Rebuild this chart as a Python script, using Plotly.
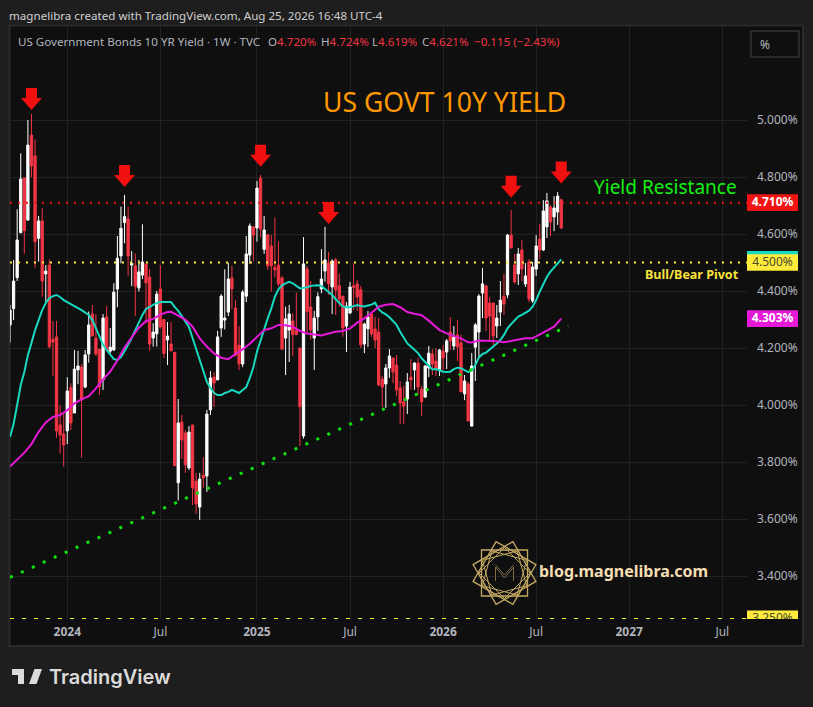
import math
import pandas as pd
import plotly.graph_objects as go

# weekly bars, first one is the week of 2023-09-11
first_week = "2023-09-11"
opens = [4.281,4.338,4.447,4.605,4.797,4.649,4.947,4.874,4.585,4.646,
         4.460,4.491,4.230,4.239,3.930,3.898,3.909,4.061,3.972,4.123,
         4.133,4.063,4.179,4.319,4.235,4.196,4.088,4.309,4.189,4.193,
         4.407,4.523,4.640,4.653,4.491,4.488,4.411,4.456,4.495,4.449,
         4.235,4.250,4.407,4.300,4.228,4.214,4.184,3.727,3.940,3.902,
         3.779,3.930,3.733,3.642,3.754,3.751,3.983,4.098,4.088,4.270,
         4.298,4.326,4.446,4.340,4.210,4.144,4.382,4.526,4.625,4.621,
         4.796,4.546,4.597,4.558,4.483,4.491,4.446,4.235,4.263,4.295,
         4.263,4.200,3.891,4.477,4.344,4.235,4.309,4.407,4.470,4.498,
         4.414,4.509,4.418,4.382,4.277,4.323,4.418,4.425,4.404,4.214,
         4.267,4.319,4.267,4.256,4.091,4.074,4.130,4.165,4.140,4.060,
         4.011,4.021,4.098,4.123,4.147,4.056,4.028,4.130,4.179,4.154,
         4.123,4.189,4.186,4.256,4.207,4.246,4.218,4.039,4.074,3.926,
         4.203,4.256,4.393,4.418,4.358,4.358,4.277,4.326,4.382,4.386,
         4.596,4.491,4.460,4.544,4.425,4.502,4.365,4.477,4.582,4.544,
         4.625,4.695,4.660,4.677,4.720]
highs = [4.351,4.509,4.687,4.883,4.797,5.000,5.021,4.932,4.663,4.690,
         4.491,4.511,4.295,4.295,3.999,3.968,4.097,4.076,4.193,4.190,
         4.144,4.193,4.328,4.351,4.319,4.196,4.319,4.347,4.270,4.427,
         4.593,4.696,4.737,4.696,4.540,4.532,4.509,4.634,4.495,4.477,
         4.287,4.400,4.491,4.300,4.291,4.291,4.187,4.021,3.965,3.912,
         3.926,3.930,3.762,3.762,3.817,3.983,4.119,4.116,4.260,4.389,
         4.476,4.499,4.488,4.368,4.277,4.403,4.593,4.637,4.628,4.786,
         4.807,4.663,4.600,4.597,4.658,4.575,4.453,4.345,4.351,4.322,
         4.395,4.200,4.589,4.488,4.435,4.330,4.395,4.547,4.625,4.537,
         4.511,4.516,4.460,4.382,4.361,4.432,4.497,4.439,4.418,4.289,
         4.330,4.319,4.309,4.305,4.102,4.144,4.196,4.165,4.175,4.084,
         4.067,4.112,4.161,4.151,4.165,4.067,4.140,4.207,4.196,4.200,
         4.196,4.210,4.232,4.309,4.277,4.298,4.246,4.105,4.081,4.182,
         4.288,4.389,4.481,4.421,4.379,4.358,4.351,4.435,4.460,4.600,
         4.684,4.530,4.551,4.579,4.498,4.512,4.502,4.596,4.635,4.719,
         4.744,4.702,4.733,4.747,4.724]
lows = [4.219,4.298,4.435,4.602,4.531,4.646,4.799,4.482,4.503,4.380,
        4.361,4.198,4.102,3.885,3.829,3.784,3.863,3.912,3.972,4.073,
        3.815,4.059,4.149,4.242,4.172,4.035,4.053,4.196,4.181,4.190,
        4.343,4.497,4.567,4.454,4.417,4.312,4.398,4.442,4.287,4.190,
        4.205,4.205,4.268,4.165,4.140,4.190,3.787,3.665,3.811,3.762,
        3.772,3.649,3.618,3.597,3.709,3.695,3.965,3.993,4.088,4.239,
        4.265,4.312,4.337,4.170,4.123,4.133,4.361,4.495,4.505,4.573,
        4.588,4.530,4.474,4.398,4.447,4.415,4.193,4.105,4.151,4.172,
        4.247,3.856,3.882,4.251,4.230,4.123,4.260,4.392,4.433,4.386,
        4.319,4.316,4.345,4.240,4.186,4.319,4.333,4.330,4.200,4.182,
        4.204,4.239,4.200,4.067,3.992,3.990,4.095,4.077,4.032,3.933,
        3.933,3.968,4.053,4.053,4.035,3.961,4.025,4.098,4.105,4.102,
        4.102,4.123,4.126,4.193,4.193,4.154,4.046,4.017,3.944,3.924,
        4.084,4.168,4.305,4.260,4.228,4.210,4.235,4.277,4.316,4.375,
        4.551,4.425,4.421,4.435,4.414,4.361,4.358,4.453,4.512,4.540,
        4.586,4.593,4.610,4.632,4.619]
closes = [4.333,4.435,4.579,4.793,4.612,4.912,4.839,4.573,4.646,4.435,
          4.470,4.205,4.221,3.909,3.895,3.860,4.049,3.937,4.126,4.137,
          4.018,4.176,4.281,4.242,4.179,4.064,4.305,4.196,4.203,4.396,
          4.515,4.620,4.661,4.523,4.497,4.417,4.467,4.502,4.429,4.214,
          4.256,4.389,4.274,4.181,4.242,4.190,3.787,3.937,3.877,3.790,
          3.905,3.709,3.653,3.740,3.744,3.968,4.095,4.077,4.239,4.382,
          4.305,4.442,4.407,4.175,4.144,4.396,4.530,4.628,4.596,4.761,
          4.617,4.614,4.488,4.488,4.474,4.425,4.196,4.302,4.319,4.247,
          4.247,3.994,4.495,4.327,4.263,4.305,4.380,4.442,4.509,4.425,
          4.505,4.404,4.372,4.270,4.347,4.414,4.413,4.379,4.211,4.284,
          4.309,4.249,4.228,4.070,4.063,4.130,4.172,4.116,4.053,4.007,
          3.996,4.081,4.088,4.147,4.063,4.011,4.137,4.182,4.144,4.126,
          4.193,4.165,4.225,4.225,4.239,4.204,4.046,4.084,3.944,4.137,
          4.281,4.382,4.425,4.305,4.312,4.242,4.305,4.368,4.354,4.596,
          4.551,4.432,4.530,4.477,4.453,4.372,4.484,4.558,4.544,4.681,
          4.716,4.642,4.691,4.733,4.621]

# moving averages, week numbers count from 2024-01-01
teal_weeks = list(range(-16, 1)) + [2, 4, 6] + list(range(7, 139))
teal_values = [3.888,3.933,4.000,4.070,4.116,4.175,4.218,4.263,4.298,4.333,4.358,4.375,4.382,4.386,4.379,4.368,4.361,
               4.347,4.333,4.316,
               4.298,4.270,4.242,4.211,4.193,4.175,4.161,4.158,4.168,4.189,4.211,4.235,4.263,4.291,4.316,4.337,4.344,4.351,4.358,4.361,4.361,4.361,4.361,
               4.344,4.330,4.312,4.295,4.274,4.235,4.196,4.151,4.112,4.081,4.060,4.042,4.035,4.035,4.042,4.046,4.053,4.046,4.042,4.053,4.063,4.095,4.133,
               4.187,4.228,4.263,4.304,4.339,4.380,4.406,4.420,4.427,4.432,4.427,4.418,4.409,4.411,4.413,4.418,4.420,4.420,4.418,4.408,4.398,4.386,4.371,4.359,4.345,4.343,4.343,4.347,4.351,4.347,4.346,4.349,4.352,4.359,4.336,4.325,4.318,4.308,4.296,4.281,4.257,4.238,4.216,4.205,4.193,4.182,4.164,4.150,4.137,
               4.125,4.126,4.122,4.117,4.116,4.117,4.126,4.131,4.129,4.123,4.115,4.121,4.140,4.167,4.179,4.184,4.193,4.205,4.216,4.228,4.246,4.269,4.284,4.296,4.310,4.316,4.324,4.331,4.345,4.368,4.398,4.427,4.450,4.468,4.483,4.500,4.511]
magenta_weeks = [-16,-14,-12,-10,-8,-6,-4,-2,0,2,4,6,8,10,12,14,16,18,20,22,24,26,28,29,31,33,35,37,39,41,43,45,47,49,51,53,55,57,59,61,63,65,67,69,71,73,75,77,79,81,83,85,87,89,91,93,95,97,99,101,104,107,110,112,113,115,119,122,125,128,130,133,136,138]
magenta_values = [3.784,3.807,3.833,3.863,3.906,3.939,3.958,3.965,3.982,4.006,4.020,4.031,4.058,4.090,4.117,4.156,4.202,4.237,4.271,4.295,4.302,4.317,4.326,4.327,4.312,4.300,4.275,4.234,4.205,4.181,4.166,4.161,4.179,4.195,4.215,4.240,4.263,4.269,4.281,4.280,4.275,4.260,4.251,4.247,4.244,4.251,4.257,4.260,4.269,4.289,4.304,4.324,4.345,4.352,4.354,4.343,4.326,4.320,4.315,4.296,4.263,4.246,4.234,4.220,4.219,4.226,4.225,4.220,4.226,4.234,4.234,4.255,4.275,4.303]

trend_weeks = [-16, 140]
trend_values = [3.395, 4.277]

arrow_weeks = [-10, 16, 54, 73, 124, 138]
arrow_tips = [5.035, 4.765, 4.836, 4.635, 4.727, 4.777]

price_ticks = [3.4, 3.6, 3.8, 4.0, 4.2, 4.4, 4.6, 4.8, 5.0]
time_tick_weeks = [0, 26, 53, 79, 105, 131, 157, 183]
time_tick_labels = ["<b>2024</b>", "Jul", "<b>2025</b>", "Jul", "<b>2026</b>", "Jul", "<b>2027</b>", "Jul"]

BG = "#1e1e1e"
PANE = "#0f0f0f"
GRID = "#222222"
TXT = "#b2b5be"
RED = "#f23645"
FONT = "Noto Sans"

# pane in pixels
L, R, AXR, T, B = 10, 747, 798, 26, 619
W, H = 813, 707


def px_x(x):
    return (x - L) / (AXR - L)


def px_y(y):
    return 1 - (y - T) / (B - T)


def week_date(k):
    return pd.Timestamp("2024-01-01") + pd.Timedelta(days=7 * k)


def pixel_shape(cx, cy, path, **kw):
    # path in pixels around a paper anchor, y grows upward
    return dict(type="path", xref="paper", yref="paper", xsizemode="pixel", ysizemode="pixel",
                xanchor=px_x(cx), yanchor=px_y(cy), path=path, **kw)


def text(x, y, s, size, color, anchor="left", family=FONT, weight="normal"):
    # annotations pad their box by a couple of pixels
    if anchor == "left":
        x -= 2.5
    return dict(xref="paper", yref="paper", x=px_x(x), y=px_y(y), text=s, showarrow=False,
                xanchor=anchor, yanchor="middle", font=dict(family=family, size=size, color=color, weight=weight))


dates = pd.date_range(first_week, periods=len(opens), freq="7D")
ymin = 5 - (B - 120) / 285
ymax = 5 - (T - 120) / 285
tag_half = 8.35 / 285

fig = go.Figure()
fig.add_trace(go.Candlestick(
    x=dates, open=opens, high=highs, low=lows, close=closes,
    increasing=dict(line=dict(color="#ffffff", width=1), fillcolor="#ffffff"),
    decreasing=dict(line=dict(color=RED, width=1), fillcolor=RED),
    whiskerwidth=0, showlegend=False, hoverinfo="skip"))
fig.add_trace(go.Scatter(x=[week_date(k) for k in teal_weeks], y=teal_values, mode="lines",
                         line=dict(color="#18d8c0", width=2), showlegend=False, hoverinfo="skip"))
fig.add_trace(go.Scatter(x=[week_date(k) for k in magenta_weeks], y=magenta_values, mode="lines",
                         line=dict(color="#e619d8", width=2), showlegend=False, hoverinfo="skip"))
fig.add_trace(go.Scatter(x=[week_date(k) for k in trend_weeks], y=trend_values, mode="lines",
                         line=dict(color="#10e010", width=3, dash="3px,9px"), showlegend=False, hoverinfo="skip"))

# price tags live in a thin second subplot so the bottom one gets clipped by the pane edge
tag_prices = [4.710, 4.500, 4.303, 3.250]
tag_labels = ["<b>4.710%</b>", "4.500%", "<b>4.303%</b>", "3.250%"]
tag_fonts = ["#ffffff", "#4a4a30", "#ffffff", "#4a4a30"]
fig.add_trace(go.Scatter(x=[0.5] * 4, y=tag_prices, mode="text", text=tag_labels, xaxis="x2", yaxis="y2",
                         textfont=dict(family=FONT, size=12, color=tag_fonts), cliponaxis=True,
                         showlegend=False, hoverinfo="skip"))

shapes = []
# outer frame
shapes.append(dict(type="rect", xref="paper", yref="paper", x0=px_x(9.5), x1=px_x(803), y0=px_y(646), y1=px_y(25.5),
                   fillcolor=PANE, line=dict(color="#2a2a2a", width=2), layer="below"))
# levels
for lvl, col, dash, w in [(4.710, "#f01414", "2px,6px", 2), (4.500, "#ffeb3b", "2px,6px", 2), (3.250, "#ffeb3b", "4px,8px", 1.5)]:
    shapes.append(dict(type="line", xref="x domain", yref="y", x0=0, x1=1, y0=lvl, y1=lvl, line=dict(color=col, width=w, dash=dash)))
# tags
for p, col in [(4.710, "#f01414"), (4.511, "#18d8c0"), (4.500, "#ffeb3b"), (4.303, "#e619d8"), (3.250, "#ffeb3b")]:
    shapes.append(dict(type="rect", xref="x2", yref="y2", x0=0, x1=1, y0=p - tag_half, y1=p + tag_half,
                       fillcolor=col, line=dict(width=0), layer="below"))
# down arrows on the tops
ARROW = "M 0 0 L -10.5 12 L -5.5 12 L -5.5 22 L 5.5 22 L 5.5 12 L 10.5 12 Z"
for k, tip in zip(arrow_weeks, arrow_tips):
    shapes.append(dict(type="path", xref="x", yref="y", xsizemode="pixel", ysizemode="pixel", xanchor=week_date(k),
                       yanchor=tip, path=ARROW, fillcolor="#f01010", line=dict(width=0)))
# % box
shapes.append(dict(type="rect", xref="paper", yref="paper", x0=px_x(751), x1=px_x(799), y0=px_y(57), y1=px_y(31),
                   line=dict(color="#333333", width=1.5)))

# logo, rotated squares plus a ring
LOGO_X, LOGO_Y = 504.5, 573
GOLD = "#c4a962"
for side, angles in [(46, [0, 30, 60]), (36, [15, 45, 75])]:
    for a in angles:
        pts = []
        for i in range(4):
            t = math.radians(a + 45 + 90 * i)
            pts.append((side / math.sqrt(2) * math.cos(t), side / math.sqrt(2) * math.sin(t)))
        p = "M " + " L ".join(f"{x:.2f} {y:.2f}" for x, y in pts) + " Z"
        shapes.append(pixel_shape(LOGO_X, LOGO_Y, p, line=dict(color=GOLD, width=1.3 if side == 46 else 1)))
shapes.append(pixel_shape(LOGO_X, LOGO_Y, "M -15 0 A 15 15 0 1 0 15 0 A 15 15 0 1 0 -15 0 Z",
                          line=dict(color=GOLD, width=1.8), fillcolor=PANE))
shapes.append(pixel_shape(LOGO_X, LOGO_Y, "M -9 -8 L -9 6 L 0 -5 L 9 6 L 9 -8 M -9 8 L 0 -2 L 9 8",
                          line=dict(color="#7d6e45", width=1)))

# TradingView glyph
shapes.append(pixel_shape(12, 684, "M 0 15 L 12 15 L 12 0 L 6 0 L 6 9 L 0 9 Z", fillcolor="#dbdbdb", line=dict(width=0)))
shapes.append(pixel_shape(28.7, 672.3, "M -3 0 A 3 3 0 1 0 3 0 A 3 3 0 1 0 -3 0 Z", fillcolor="#dbdbdb", line=dict(width=0)))
shapes.append(pixel_shape(29, 684, "M 0 0 L 7.5 0 L 13 15 L 5.5 15 Z", fillcolor="#dbdbdb", line=dict(width=0)))

red = "<span style='color:%s'>%s</span>"
annotations = [
    text(9.5, 15, "magnelibra created with TradingView.com, Aug 25, 2026 16:48 UTC-4", 11.6, "#d0d0d0"),
    text(18, 42, "US Government Bonds 10 YR Yield · 1W · TVC", 11.6, TXT),
    text(268, 42, "O" + red % (RED, "4.720%"), 11.6, TXT),
    text(321, 42, "H" + red % (RED, "4.724%"), 11.6, TXT),
    text(372, 42, "L" + red % (RED, "4.619%"), 11.6, TXT),
    text(422, 42, "C" + red % (RED, "4.621%"), 11.6, TXT),
    text(474, 42, "−0.115 (−2.43%)", 11.6, RED),
    text(760, 44, "%", 12, TXT),
    text(444.5, 102, "US GOVT 10Y YIELD", 26.6, "#ff9800", "center"),
    text(665.5, 187, "Yield Resistance", 19, "#14f014", "center"),
    text(692, 274, "<b>Bull/Bear Pivot</b>", 12.5, "#fbe23a", "center"),
    text(539, 571, "<b>blog.magnelibra.com</b>", 16, "#f5deb3"),
    text(49, 677, "TradingView", 20, "#dbdbdb", family="Inter", weight=600),
]

fig.update_layout(
    width=W, height=H, margin=dict(l=L, r=W - AXR, t=T, b=H - B),
    paper_bgcolor=BG, plot_bgcolor=PANE, shapes=shapes, annotations=annotations, showlegend=False,
    boxgap=0.2, boxgroupgap=0.2,
    xaxis=dict(domain=[0, (R - L) / (AXR - L)], type="date", range=[week_date(-16), week_date(189.9)],
               rangeslider=dict(visible=False), tickvals=[week_date(k) for k in time_tick_weeks],
               ticktext=time_tick_labels, tickfont=dict(family=FONT, size=12, color=TXT),
               showgrid=True, gridcolor=GRID, gridwidth=1, zeroline=False, showline=False, ticks="", anchor="y",
               ticklabelstandoff=4),
    yaxis=dict(domain=[0, 1], side="right", anchor="x", range=[ymin, ymax], tickvals=price_ticks,
               ticktext=["%.3f%%" % v for v in price_ticks], tickfont=dict(family=FONT, size=12, color=TXT),
               showgrid=True, gridcolor=GRID, gridwidth=1, zeroline=False, showline=False, ticks="", ticklabelstandoff=9),
    xaxis2=dict(domain=[(R - L) / (AXR - L), 1], range=[0, 1], visible=False, anchor="y2"),
    yaxis2=dict(domain=[0, 1], range=[ymin, ymax], visible=False, anchor="x2"),
)

fig.write_html("out.html", config=dict(displayModeBar=False), post_script="document.body.style.margin='0';")
